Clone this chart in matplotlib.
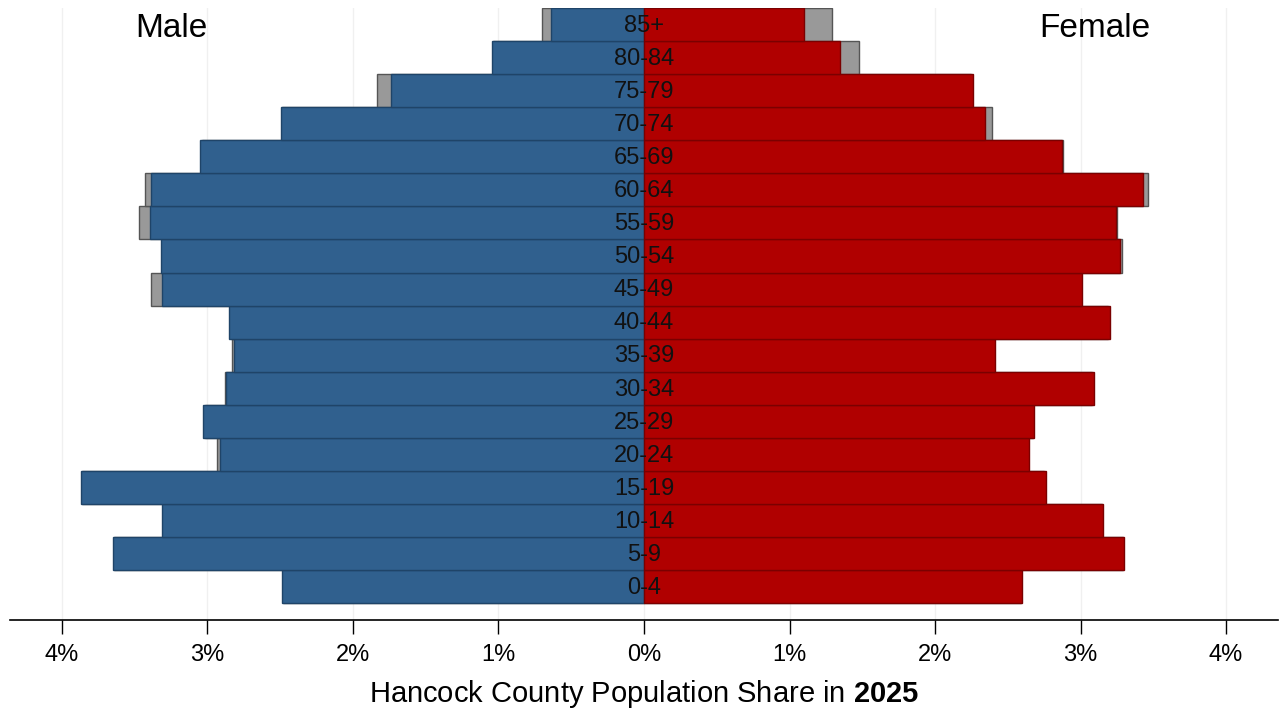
import matplotlib.pyplot as plt
import numpy as np

plt.rcParams['font.family'] = ['Liberation Sans', 'DejaVu Sans']
plt.rcParams['mathtext.fontset'] = 'custom'
plt.rcParams['mathtext.rm'] = 'Liberation Sans'
plt.rcParams['mathtext.bf'] = 'Liberation Sans:bold'

# age groups, bottom to top
ages = ['0-4', '5-9', '10-14', '15-19', '20-24', '25-29', '30-34', '35-39',
        '40-44', '45-49', '50-54', '55-59', '60-64', '65-69', '70-74',
        '75-79', '80-84', '85+']

# share of county population in 2025 (%)
male = [2.49, 3.65, 3.31, 3.87, 2.915, 3.03, 2.87, 2.82,
        2.85, 3.31, 3.32, 3.395, 3.385, 3.05, 2.495,
        1.74, 1.045, 0.64]
female = [2.60, 3.30, 3.157, 2.76, 2.648, 2.68, 3.093, 2.41,
          3.203, 3.008, 3.27, 3.244, 3.43, 2.87, 2.34,
          2.26, 1.347, 1.10]

# comparison series drawn in grey behind
male_cmp = [2.48, 3.64, 3.30, 3.86, 2.937, 3.02, 2.88, 2.83,
            2.84, 3.385, 3.31, 3.47, 3.43, 3.04, 2.49,
            1.835, 1.04, 0.70]
female_cmp = [2.59, 3.29, 3.15, 2.75, 2.64, 2.67, 3.08, 2.40,
              3.19, 3.00, 3.285, 3.25, 3.467, 2.88, 2.39,
              2.25, 1.478, 1.29]

ticks = [-4, -3, -2, -1, 0, 1, 2, 3, 4]
tick_labels = ['4%', '3%', '2%', '1%', '0%', '1%', '2%', '3%', '4%']

y = np.arange(len(ages))

fig = plt.figure(figsize=(12.81, 7.17), dpi=100)
ax = fig.add_axes([10/1281, 1-620/717, 1268/1281, 612/717])

ax.set_axisbelow(True)
ax.grid(axis='x', color='#f0f0f0', lw=1)

ax.barh(y, -np.array(male_cmp), height=1, color='#999999', edgecolor='#555555', lw=1)
ax.barh(y, female_cmp, height=1, color='#999999', edgecolor='#555555', lw=1)
ax.barh(y, -np.array(male), height=1, color='#30608e', edgecolor='#1f4468', lw=1)
ax.barh(y, female, height=1, color='#b00000', edgecolor='#7a0000', lw=1)

for i, a in enumerate(ages):
    ax.text(0, i - 0.04, a, ha='center', va='center', fontsize=17, color='#111111')

ax.text(-3.25, 16.88, 'Male', ha='center', va='center', fontsize=24)
ax.text(3.10, 16.88, 'Female', ha='center', va='center', fontsize=24)

ax.set_xlim(-4.357, 4.357)
ax.set_ylim(-1.01, 17.5)
ax.set_xticks(ticks)
ax.set_xticklabels(tick_labels, fontsize=17)
ax.set_yticks([])
ax.tick_params(axis='x', direction='out', length=10, width=1, pad=7)
for s in ['top', 'left', 'right']:
    ax.spines[s].set_visible(False)
ax.spines['bottom'].set_linewidth(1.2)

ax.set_xlabel('Hancock County Population Share in $\\mathbf{2025}$', fontsize=21, labelpad=9)

fig.savefig('out.png', dpi=100)
